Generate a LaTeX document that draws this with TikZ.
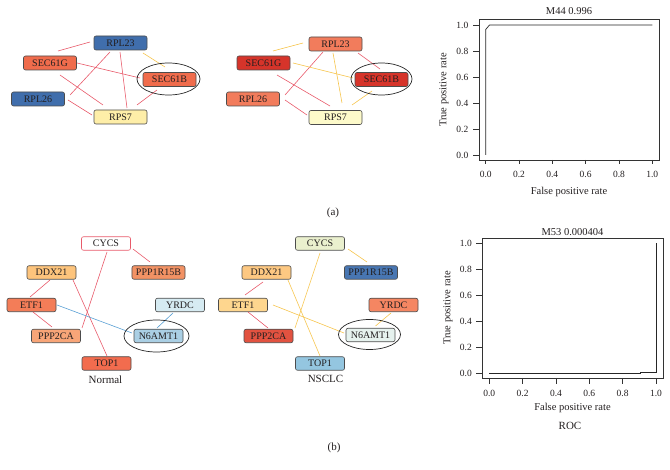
\documentclass[tikz,border=0pt]{standalone}
\usepackage{fontspec}
\setmainfont{Liberation Serif}
\definecolor{nblue}{RGB}{64,110,172}
\definecolor{norange}{RGB}{240,108,76}
\definecolor{nyel}{RGB}{254,238,168}
\definecolor{nred}{RGB}{214,52,42}
\definecolor{nsalmon}{RGB}{242,124,92}
\definecolor{npale}{RGB}{253,250,202}
\definecolor{cddx}{RGB}{253,196,124}
\definecolor{cppp1}{RGB}{242,146,100}
\definecolor{cetf}{RGB}{243,125,88}
\definecolor{cyrdc}{RGB}{214,235,242}
\definecolor{cpp2}{RGB}{248,165,120}
\definecolor{cn6}{RGB}{170,207,228}
\definecolor{ctop}{RGB}{242,108,78}
\definecolor{mcycs}{RGB}{234,240,206}
\definecolor{mddx}{RGB}{253,200,130}
\definecolor{mppp1}{RGB}{72,118,178}
\definecolor{metf}{RGB}{254,214,142}
\definecolor{myrdc}{RGB}{245,134,98}
\definecolor{mpp2}{RGB}{226,82,64}
\definecolor{mn6}{RGB}{230,242,238}
\definecolor{mtop}{RGB}{148,198,224}
\definecolor{ered}{RGB}{232,90,106}
\definecolor{eyel}{RGB}{246,196,76}
\definecolor{eblue}{RGB}{90,160,212}
\definecolor{ink}{RGB}{35,31,32}
\tikzset{
  gn/.style={draw=black!70, rounded corners=2pt, line width=0.6pt, minimum height=14pt,
    minimum width=53pt, inner xsep=4pt, inner ysep=1pt, font=\fontsize{10}{12}\selectfont, text=ink},
  gnb/.style={gn, minimum width=49pt, minimum height=13.5pt},
  er/.style={draw=ered, line width=0.6pt},
  ey/.style={draw=eyel, line width=0.6pt},
  eb/.style={draw=eblue, line width=0.6pt},
  ring/.style={draw=black!85, line width=0.7pt},
  axisline/.style={draw=black!80, line width=0.6pt},
  roc/.style={draw=black!85, line width=0.7pt},
  lab/.style={font=\fontsize{10.5}{12}\selectfont, text=ink, inner sep=0pt},
  tk/.style={font=\fontsize{9.5}{11}\selectfont, text=ink, inner sep=0pt},
  captxt/.style={font=\fontsize{11}{13}\selectfont, text=ink, inner sep=0pt},
}
\newcommand\gl[5]{\draw[#1] ([shift={(#3)}]#2.center) -- ([shift={(#5)}]#4.center);}
\begin{document}
\begin{tikzpicture}[x=1pt,y=-1pt]
\useasboundingbox (0,0) rectangle (670,470);
% ---------------- (a) left network
\node[gn, fill=nblue]   (A)  at (120.5,43)  {RPL23};
\node[gn, fill=norange] (G)  at (50,63)     {SEC61G};
\node[gn, fill=norange] (B)  at (169.5,79.5){SEC61B};
\node[gn, fill=nblue]   (R)  at (38,99)     {RPL26};
\node[gn, fill=nyel]    (S)  at (120.5,117) {RPS7};
\gl{er}{G}{8,-12}{A}{-30.5,-1}
\gl{ey}{A}{22.5,10}{B}{-4.5,-12.5}
\gl{er}{A}{-10.5,9}{R}{32,-4}
\gl{er}{A}{-0.5,9}{S}{6.5,-9}
\gl{er}{G}{27,0}{B}{-29.5,-1.5}
\gl{er}{G}{10,12}{S}{-17.5,-12}
\gl{er}{R}{30,1}{S}{-28.5,-2}
\gl{er}{B}{-12.5,10.5}{S}{16.5,-12}
\draw[ring] ([shift={(-1,-0.5)}]B.center) ellipse [x radius=31.5, y radius=16];
% ---------------- (a) middle network
\node[gn, fill=nsalmon] (A2) at (335.5,44)   {RPL23};
\node[gn, fill=nred]    (G2) at (263.5,63)   {SEC61G};
\node[gn, fill=nred]    (B2) at (381.5,79.5) {SEC61B};
\node[gn, fill=nsalmon] (R2) at (253,99)     {RPL26};
\node[gn, fill=npale]   (S2) at (335.5,117.5){RPS7};
\gl{ey}{G2}{9.5,-12}{A2}{-32.5,-1}
\gl{er}{A2}{22.5,9}{B2}{-1.5,-10.5}
\gl{er}{A2}{-12.5,8}{R2}{32,-4}
\gl{ey}{A2}{-2.5,9}{S2}{6.5,-14.5}
\gl{ey}{G2}{29.5,0}{B2}{-28.5,-1.5}
\gl{er}{G2}{13.5,12}{S2}{-5.5,-11.5}
\gl{er}{R2}{32,1}{S2}{-28.5,-2.5}
\gl{ey}{B2}{-9.5,11.5}{S2}{16.5,-12.5}
\draw[ring] ([shift={(0,-0.5)}]B2.center) ellipse [x radius=30.5, y radius=16];
% ---------------- (a) ROC plot
\draw[axisline] (479,19) rectangle (659,160);
\foreach \xx/\l [count=\k] in {485.7/0.0, 519.0/0.2, 552.3/0.4, 585.6/0.6, 619.0/0.8, 652.3/1.0}{
  \draw[axisline] (\xx,160) -- (\xx,164.5);
  \node[tk] (tax\k) at (\xx,174) {\l};
}
\foreach \yy/\l [count=\k] in {155/0.0, 129/0.2, 103/0.4, 77/0.6, 51/0.8, 25/1.0}{
  \draw[axisline] (479,\yy) -- (472.5,\yy);
  \node[tk, anchor=east] (tay\k) at (468.5,\yy) {\l};
}
\draw[roc] (485.7,155) -- (485.7,29.5) -- (489.5,25) -- (652.3,25);
\node[lab] (ta) at (569,11) {M44 0.996};
\node[lab] (txa) at (569,191.5) {False positive rate};
\node[lab, rotate=90] (tya) at (444,90) {True positive rate};
\node[captxt] (capa) at (333,212.5) {(a)};
% ---------------- (b) left network
\node[gnb, fill=white, draw=ered] (C) at (106,243.5) {CYCS};
\node[gnb, fill=cddx]  (D) at (51.5,272.5) {DDX21};
\node[gnb, fill=cppp1] (P) at (158.5,272.5){PPP1R15B};
\node[gnb, fill=cetf]  (E) at (31.5,305)   {ETF1};
\node[gnb, fill=cyrdc] (Y) at (180,305)    {YRDC};
\node[gnb, fill=cpp2]  (Q) at (56,336)     {PPP2CA};
\node[gnb, fill=cn6]   (N) at (158.5,336)  {N6AMT1};
\node[gnb, fill=ctop]  (T) at (106.5,363.5){TOP1};
\gl{er}{C}{27,5.5}{P}{-8.5,-10.5}
\gl{er}{D}{-1.5,7.5}{E}{-1.5,-8}
\gl{er}{E}{1.5,7}{Q}{-4,-9}
\gl{er}{C}{1,8.5}{Q}{26,-8}
\gl{er}{D}{21.5,7.5}{T}{0.5,-7.5}
\gl{eb}{E}{25.5,0}{N}{-26.5,-3}
\gl{eb}{Y}{-7,8}{N}{-1.5,-8}
\draw[ring] ([shift={(-2,0)}]N.center) ellipse [x radius=32.5, y radius=16];
\node[captxt] (capn) at (105.5,379.5) {Normal};
% ---------------- (b) middle network
\node[gnb, fill=mcycs] (C2) at (320,243.5)  {CYCS};
\node[gnb, fill=mddx]  (D2) at (266.5,272.5){DDX21};
\node[gnb, fill=mppp1] (P2) at (371,272.5)  {PPP1R15B};
\node[gnb, fill=metf]  (E2) at (243,305)    {ETF1};
\node[gnb, fill=myrdc] (Y2) at (393.5,305)  {YRDC};
\node[gnb, fill=mpp2]  (Q2) at (268.5,336)  {PPP2CA};
\node[gnb, fill=mn6]   (N2) at (370.5,335)  {N6AMT1};
\node[gnb, fill=mtop]  (T2) at (320,363.5)  {TOP1};
\gl{ey}{C2}{28,5.5}{P2}{-4,-10.5}
\gl{er}{D2}{-3.5,9.5}{E2}{2,-10}
\gl{er}{E2}{5,7}{Q2}{-0.5,-8}
\gl{ey}{C2}{0,9.5}{Q2}{26.5,-8}
\gl{ey}{D2}{21.5,7.5}{T2}{0,-7.5}
\gl{ey}{E2}{30,0}{N2}{-26.5,-2}
\gl{ey}{Y2}{-2.5,8}{N2}{5,-9}
\draw[ring] ([shift={(-1,-0.5)}]N2.center) ellipse [x radius=31, y radius=15];
\node[captxt] (capc) at (325.5,379) {NSCLC};
% ---------------- (b) ROC plot
\draw[axisline] (482,238) rectangle (663,378);
\foreach \xx/\l [count=\k] in {489.3/0.0, 522.6/0.2, 556.0/0.4, 589.3/0.6, 622.6/0.8, 656.0/1.0}{
  \draw[axisline] (\xx,378) -- (\xx,384);
  \node[tk] (tbx\k) at (\xx,393) {\l};
}
\foreach \yy/\l [count=\k] in {373.3/0.0, 347.3/0.2, 321.3/0.4, 295.3/0.6, 269.3/0.8, 243.3/1.0}{
  \draw[axisline] (482,\yy) -- (475.5,\yy);
  \node[tk, anchor=east] (tby\k) at (472,\yy) {\l};
}
\draw[roc] (489.3,373.3) -- (640,373.3) -- (640,372.3) -- (656,372.3) -- (656,243.3);
\node[lab] (tb) at (572.5,232) {M53 0.000404};
\node[lab] (txb) at (572.5,408) {False positive rate};
\node[lab, rotate=90] (tyb) at (448,308) {True positive rate};
\node[captxt] (roclab) at (570,425.5) {ROC};
\node[captxt] (capb) at (334,448) {(b)};
\end{tikzpicture}
\end{document}
